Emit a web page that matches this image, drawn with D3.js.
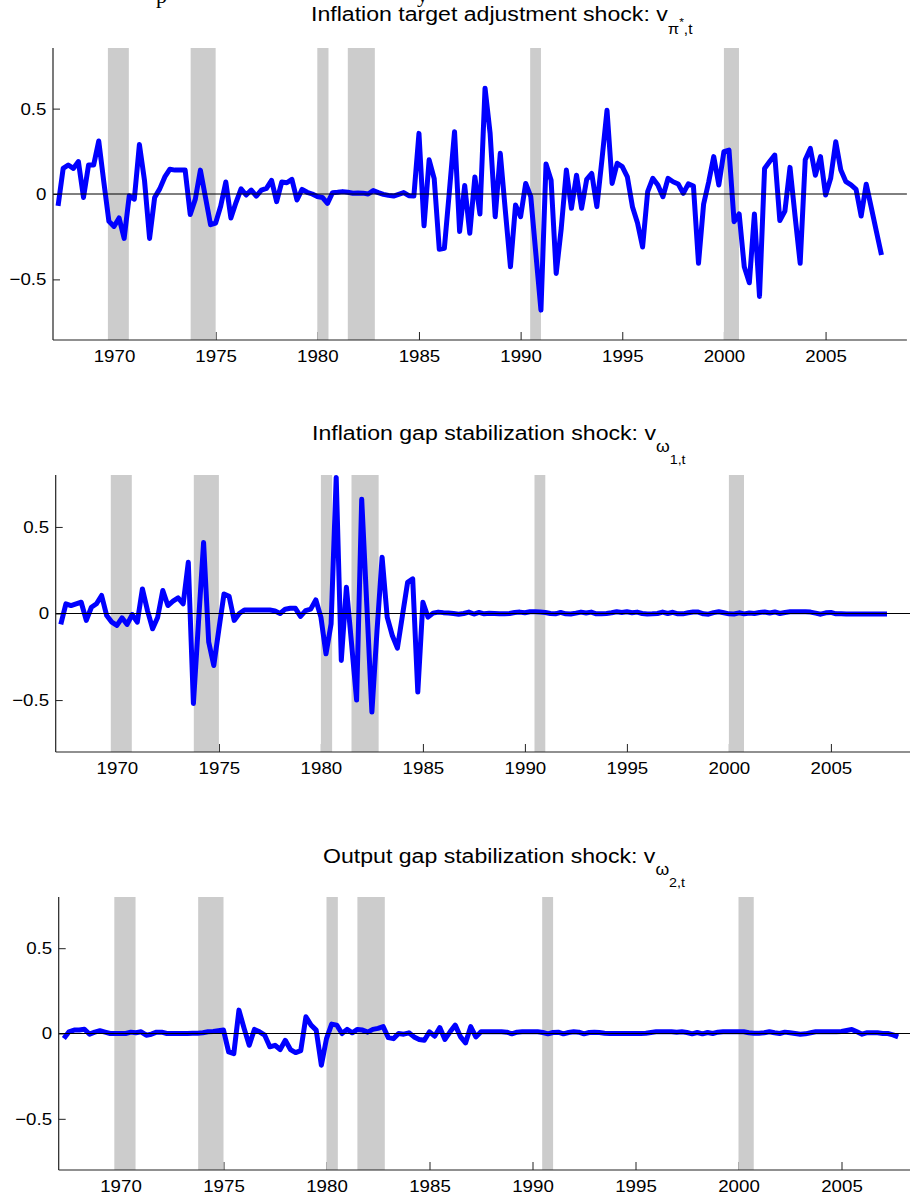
<!DOCTYPE html>
<html><head><meta charset="utf-8">
<script src="https://cdn.jsdelivr.net/npm/d3@7"></script>
<style>
body{margin:0;background:#fff;}
svg{display:block;font-family:"Liberation Sans",Arial,Helvetica,sans-serif;}
</style></head><body>
<svg id="chart" width="910" height="1198"></svg>
<script>
// ---------------- data ----------------
const xDomain = [1967, 2009];
const quarterStart = 1967.25, quarterStep = 0.25;
const xTickValues = [1970, 1975, 1980, 1985, 1990, 1995, 2000, 2005];
const yTickValues = [-0.5, 0, 0.5];
const yTickLabels = ["\u22120.5", "0", "0.5"];
const recessionStart = [1969.7, 1973.77, 1980.0, 1981.5, 1990.47, 2000.0];
const recessionEnd   = [1970.73, 1975.0, 1980.55, 1982.83, 1991.0, 2000.74];

const piStarShock = [
 -0.07, 0.15, 0.17, 0.15, 0.19, -0.02, 0.17, 0.17, 0.31, 0.07,
 -0.16, -0.19, -0.14, -0.26, -0.01, -0.03, 0.29, 0.08, -0.26, -0.02,
 0.03, 0.10, 0.145, 0.14, 0.14, 0.14, -0.12, -0.03, 0.14, -0.02,
 -0.18, -0.17, -0.07, 0.07, -0.14, -0.05, 0.03, -0.006, 0.023, -0.012,
 0.023, 0.033, 0.08, -0.045, 0.07, 0.066, 0.086, -0.035, 0.027, 0.01,
 0.0, -0.015, -0.02, -0.055, 0.008, 0.01, 0.014, 0.01, 0.004, 0.006,
 0.005, 0.0, 0.02, 0.008, -0.002, -0.008, -0.012, -0.002, 0.008, -0.01,
 -0.012, 0.355, -0.186, 0.2, 0.09, -0.324, -0.318, 0.02, 0.365, -0.22,
 0.05, -0.23, 0.10, -0.117, 0.62, 0.355, -0.133, 0.238, -0.1, -0.426,
 -0.064, -0.133, 0.062, -0.016, -0.35, -0.68, 0.176, 0.08, -0.465, -0.2,
 0.14, -0.084, 0.11, -0.084, 0.086, 0.12, -0.074, 0.2, 0.49, 0.062,
 0.18, 0.16, 0.10, -0.074, -0.17, -0.31, 0.014, 0.092, 0.053, -0.016,
 0.092, 0.072, 0.059, 0.004, 0.059, 0.047, -0.406, -0.06, 0.07, 0.219,
 0.053, 0.248, 0.257, -0.162, -0.117, -0.426, -0.52, -0.117, -0.6, 0.15,
 0.19, 0.228, -0.155, -0.1, 0.156, -0.13, -0.406, 0.2, 0.267, 0.11,
 0.219, -0.006, 0.092, 0.306, 0.14, 0.072, 0.053, 0.027, -0.129, 0.057,
 -0.08, -0.22, -0.357
];

const omega1Shock = [
 -0.063, 0.056, 0.046, 0.056, 0.065, -0.04, 0.036, 0.056, 0.104, -0.012,
 -0.05, -0.069, -0.025, -0.063, -0.006, -0.05, 0.142, 0.017, -0.088, -0.021,
 0.133, 0.046, 0.071, 0.09, 0.056, 0.296, -0.52, -0.05, 0.41, -0.165,
 -0.3, -0.09, 0.113, 0.1, -0.04, 0.0, 0.02, 0.02, 0.02, 0.02,
 0.02, 0.02, 0.015, 0.0, 0.025, 0.03, 0.03, -0.017, 0.017, 0.025,
 0.079, -0.021, -0.233, -0.06, 0.786, -0.271, 0.152, -0.17, -0.5, 0.66,
 0.05, -0.569, -0.1, 0.325, -0.021, -0.127, -0.2, -0.01, 0.18, 0.2,
 -0.454, 0.065, -0.021, 0.002, 0.008, 0.005, 0.003, 0.0, -0.004, 0.0,
 0.008, -0.003, 0.006, -0.002, 0.002, 0.0, -0.002, -0.002, 0.0, 0.006,
 0.008, 0.004, 0.01, 0.01, 0.009, 0.006, 0.0, -0.002, 0.006, -0.002,
 -0.003, 0.002, 0.008, 0.003, 0.008, -0.002, -0.002, 0.0, 0.004, 0.01,
 0.006, 0.01, 0.004, 0.008, 0.0, -0.003, -0.002, 0.0, 0.008, 0.0,
 0.007, -0.002, -0.002, 0.004, 0.009, 0.008, -0.002, -0.004, 0.005, 0.01,
 0.004, -0.002, -0.003, 0.004, -0.002, 0.003, 0.0, 0.006, 0.009, 0.003,
 0.009, 0.0, 0.006, 0.01, 0.01, 0.01, 0.01, 0.008, 0.002, -0.004,
 0.004, 0.006, -0.002, -0.002, -0.003, -0.003, -0.003, -0.003, -0.003, -0.003,
 -0.003, -0.003, -0.003
];

const omega2Shock = [
 -0.03, 0.01, 0.02, 0.02, 0.025, -0.004, 0.008, 0.016, 0.008, 0.0,
 0.0, 0.0, 0.0, 0.008, 0.004, 0.01, -0.01, -0.004, 0.008, 0.008,
 0.0, 0.0, 0.0, 0.0, 0.0, 0.002, 0.002, 0.004, 0.01, 0.012,
 0.016, 0.02, -0.108, -0.118, 0.137, 0.03, -0.069, 0.024, 0.01, -0.01,
 -0.078, -0.069, -0.094, -0.04, -0.094, -0.112, -0.1, 0.098, 0.049, 0.02,
 -0.186, -0.03, 0.055, 0.049, 0.0, 0.024, 0.004, 0.024, 0.02, 0.008,
 0.024, 0.03, 0.04, -0.024, -0.03, 0.0, -0.004, 0.004, -0.02, -0.035,
 -0.04, 0.01, -0.016, 0.035, -0.035, 0.01, 0.049, -0.018, -0.055, 0.04,
 -0.02, 0.01, 0.01, 0.01, 0.01, 0.01, 0.008, -0.002, 0.008, 0.01,
 0.01, 0.01, 0.01, 0.006, -0.002, 0.006, 0.008, -0.002, 0.006, 0.01,
 0.008, -0.002, 0.006, 0.008, 0.006, 0.002, 0.0, 0.0, 0.0, 0.0,
 0.0, 0.0, 0.0, 0.002, 0.006, 0.01, 0.01, 0.01, 0.01, 0.008,
 0.01, 0.006, -0.002, 0.006, -0.002, 0.006, 0.0, 0.008, 0.01, 0.01,
 0.01, 0.01, 0.01, 0.004, 0.002, 0.002, 0.004, 0.01, 0.004, 0.0,
 0.008, 0.004, 0.0, -0.004, -0.002, 0.004, 0.01, 0.01, 0.01, 0.01,
 0.01, 0.012, 0.018, 0.024, 0.01, -0.004, 0.005, 0.004, 0.004, 0.0,
 0.0, -0.008, -0.02
];

const titleMain = [
 "Inflation target adjustment shock: v",
 "Inflation gap stabilization shock: v",
 "Output gap stabilization shock: v"
];
const titleSubs = [
 [{t:"\u03c0", size:15, dy:13}, {t:"*", size:11, dy:-8}, {t:",t", size:14, dy:8}],
 [{t:"\u03c9", size:16, dy:12}, {t:"1,t", size:13, dy:12}],
 [{t:"\u03c9", size:16, dy:12}, {t:"2,t", size:13, dy:12}]
];
const seriesList = [piStarShock, omega1Shock, omega2Shock];

// ---------------- layout ----------------
const layout = [
 {left:53,   right:906.9, top:48,  bottom:340,  yMax:0.855, titleX:311, titleY:21},
 {left:55.7, right:912.5, top:475, bottom:752,  yMax:0.8,   titleX:312, titleY:440},
 {left:58.7, right:923.9, top:897, bottom:1170, yMax:0.8,   titleX:323, titleY:863}
];

const svg = d3.select("#chart");

// clipped caption line above the figure (only its lowest part is visible)
svg.append("text").attr("x",156).attr("y",3).attr("font-family","'Liberation Serif','Times New Roman',serif")
  .attr("font-size",22).attr("fill","#000").text("p");
svg.append("text").attr("x",417).attr("y",2).attr("font-family","'Liberation Serif','Times New Roman',serif")
  .attr("font-size",22).attr("fill","#000").text("y");

seriesList.forEach((series, p) => {
  const L = layout[p];
  const g = svg.append("g");
  const x = d3.scaleLinear().domain(xDomain).range([L.left, L.right]);
  const y = d3.scaleLinear().domain([-L.yMax, L.yMax]).range([L.bottom, L.top]);
  const dates = series.map((v, i) => quarterStart + i * quarterStep);

  // ticks (under bars)
  const gx = g.append("g").attr("transform", `translate(0,${L.bottom})`)
    .call(d3.axisBottom(x).tickValues(xTickValues).tickFormat(d3.format("d"))
      .tickSizeInner(-8).tickSizeOuter(0).tickPadding(10));
  gx.attr("font-size", 17).attr("font-family", null);
  gx.select(".domain").remove();
  gx.selectAll(".tick line").attr("stroke", "#222");
  gx.selectAll(".tick text").attr("fill", "#000").attr("transform", "scale(1.1,1)");

  const gy = g.append("g").attr("transform", `translate(${L.left},0)`)
    .call(d3.axisLeft(y).tickValues(yTickValues).tickFormat((d, i) => yTickLabels[i])
      .tickSizeInner(-7).tickSizeOuter(0).tickPadding(6));
  gy.attr("font-size", 17).attr("font-family", null);
  gy.select(".domain").remove();
  gy.selectAll(".tick line").attr("stroke", "#222");
  gy.selectAll(".tick text").attr("fill", "#000").attr("transform", "scale(1.1,1)");

  // recession bars
  g.selectAll("rect.rec").data(recessionStart).join("rect").attr("class", "rec")
    .attr("x", (d) => x(d))
    .attr("width", (d, i) => x(recessionEnd[i]) - x(d))
    .attr("y", L.top).attr("height", L.bottom - L.top)
    .attr("fill", "#cccccc");

  // series line
  const line = d3.line().x((d, i) => x(dates[i])).y(d => y(d));
  g.append("path").datum(series).attr("d", line)
    .attr("fill", "none").attr("stroke", "#0000ff").attr("stroke-width", 5)
    .attr("stroke-linejoin", "round");

  // zero line
  g.append("line").attr("x1", L.left).attr("x2", L.right)
    .attr("y1", y(0)).attr("y2", y(0)).attr("stroke", "#000").attr("stroke-width", 1);

  // axis lines
  g.append("line").attr("x1", L.left).attr("x2", L.left).attr("y1", L.top).attr("y2", L.bottom)
    .attr("stroke", "#222").attr("stroke-width", 1.2);
  g.append("line").attr("x1", L.left).attr("x2", L.right).attr("y1", L.bottom).attr("y2", L.bottom)
    .attr("stroke", "#222").attr("stroke-width", 1.2);

  // title
  const t = svg.append("text").attr("transform", `translate(${L.titleX},${L.titleY}) scale(1.1,1)`)
    .attr("font-size", 21).attr("fill", "#000");
  t.append("tspan").text(titleMain[p]);
  titleSubs[p].forEach(s => t.append("tspan").attr("font-size", s.size).attr("dy", s.dy).text(s.t));
});
</script>
</body></html>
